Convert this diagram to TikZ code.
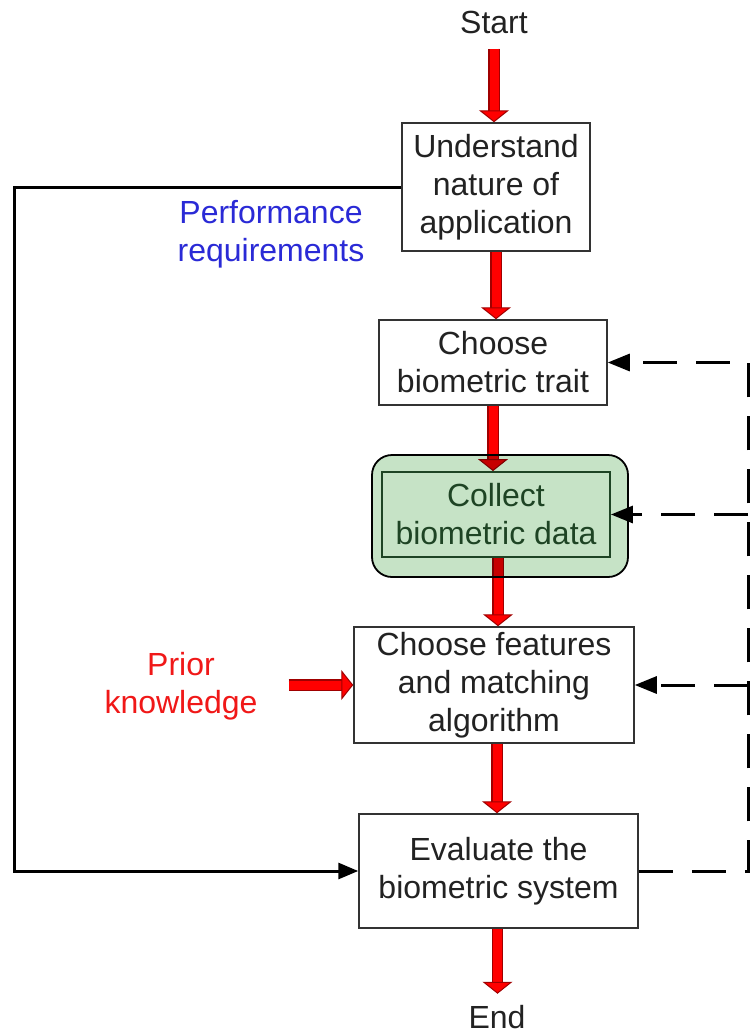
\documentclass[tikz,border=0pt]{standalone}
\usepackage{fontspec}
\setmainfont{Liberation Sans}
\usetikzlibrary{arrows.meta,calc,backgrounds}
\definecolor{txt}{HTML}{222222}
\definecolor{darkred}{HTML}{A00000}
\definecolor{boxgreen}{HTML}{C6E3C6}
\definecolor{dgreen}{HTML}{1E4424}
\definecolor{perfblue}{HTML}{2A2AD6}
\definecolor{priorred}{HTML}{F01818}
\begin{document}
\begin{tikzpicture}[x=1pt,y=-1pt,
  every node/.style={font=\fontsize{32}{38}\selectfont, text=txt, inner sep=0pt, align=center},
  box/.style={draw=black!80, line width=1.5pt, fill=white},
  outerbox/.style={draw=black, line width=1.8pt, fill=boxgreen, rounded corners=20pt, minimum width=256pt, minimum height=122pt},
  innerbox/.style={draw=dgreen, line width=1.8pt, text=dgreen, minimum width=228pt, minimum height=85pt},
  redarr/.style={draw=red, line width=9pt,
    -{Triangle[width=30pt,length=12pt,line width=1pt,color=darkred,fill=red]},
    preaction={draw=darkred, line width=11.5pt, arrows=-, shorten >=10pt}},
  blk/.style={draw=black, line width=3pt, -{Triangle[length=20pt,width=16pt]}},
  dsh/.style={draw=black, line width=3pt, dash pattern=on 34pt off 19pt},
  dsharr/.style={dsh, -{Triangle[length=22pt,width=17pt]}}
]
\useasboundingbox (0,0) rectangle (750,1034);

\node (start) at (494,22) {Start};
\node[box, minimum width=188pt, minimum height=128pt] (u) at (496,187) {Understand\\nature of\\application};
\node[box, minimum width=228pt, minimum height=85pt] (t) at (493,362.5) {Choose\\biometric trait};
\node[outerbox, blend mode=multiply] (co) at (500,516) {};
\node[innerbox] (ci) at (496,514.5) {Collect\\biometric data};
\node[box, minimum width=280pt, minimum height=116pt] (f) at (494,685) {Choose features\\and matching\\algorithm};
\node[box, minimum width=279pt, minimum height=114pt] (e) at (498.5,871) {Evaluate the\\biometric system};
\node (end) at (497,1017) {End};
\node[text=perfblue] (perf) at (271,234) {Performance\\requirements};
\node[text=priorred] (prior) at (181,686) {Prior\\knowledge};

\coordinate (lc) at (14,0);
\coordinate (rc) at (748,0);

\begin{pgfonlayer}{background}
  \draw[redarr] ($(start.south)+(0,15)$) -- (start.south |- u.north);
  \draw[redarr] (u.south) -- (u.south |- t.north);
  \draw[redarr] (t.south) -- (t.south |- ci.north);
  \draw[redarr] ($(ci.south)+(2,0)$) -- ($(ci.south |- f.north)+(2,0)$);
  \draw[redarr] ($(f.south)+(3,0)$) -- ($(f.south |- e.north)+(3,0)$);
  \draw[redarr] ($(e.south)+(-1,0)$) -- ($(e.south)+(-1,65)$);
  \draw[redarr] ($(prior.east |- f.west)+(31,0)$) -- (f.west);
  \draw[dsharr] (rc |- ci.east) -- (ci.east);
\end{pgfonlayer}

\draw[blk] (u.west) -| (lc |- e.west) -- (e.west);
\draw[dsharr] (e.east) -- (rc |- e.east) -- (rc |- t.east) -- (t.east);
\draw[dsharr] (rc |- f.east) -- (f.east);
\end{tikzpicture}
\end{document}
